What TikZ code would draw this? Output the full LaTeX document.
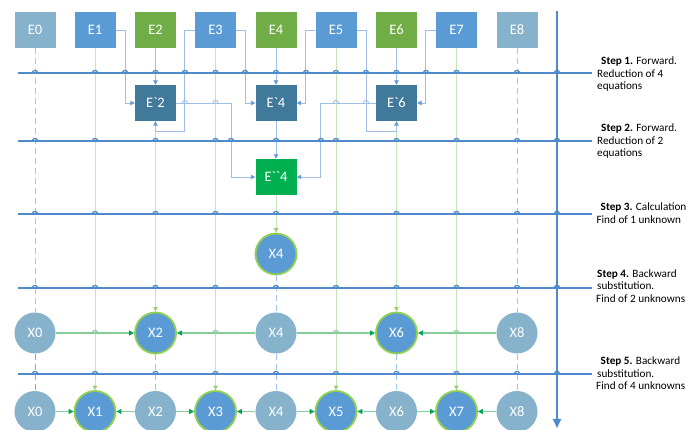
\documentclass[tikz,border=0pt]{standalone}
\usepackage{fontspec}
\setmainfont{Carlito}[Ligatures=TeXOff]
\usetikzlibrary{arrows.meta}

\definecolor{stepblue}{HTML}{4F8BCB}
\definecolor{egrey}{HTML}{86B2CB}
\definecolor{eblue}{HTML}{5B9BD5}
\definecolor{egreen}{HTML}{70AD47}
\definecolor{edark}{HTML}{41799A}
\definecolor{efinal}{HTML}{00B050}
\definecolor{ringgreen}{HTML}{92D050}
\definecolor{connblue}{HTML}{9DBFE6}
\definecolor{connhead}{HTML}{6A9BD8}
\definecolor{vgreen}{HTML}{C9E3B8}
\definecolor{vhead}{HTML}{9CCF78}
\definecolor{rowgreen}{HTML}{86CC9C}
\definecolor{rowhead}{HTML}{00A651}
\definecolor{dashblue}{HTML}{A3C4E8}
\definecolor{dashviolet}{HTML}{95A2E6}

% small line jump drawn over a crossing
\newcommand\hopat[3]{\draw[#3] (#1-2.6,#2) .. controls (#1-2.6,#2-3.4) and (#1+2.6,#2-3.4) .. (#1+2.6,#2);}

\begin{document}
\begin{tikzpicture}[x=1pt,y=-1pt,
  ebox/.style={minimum width=41pt, minimum height=36pt, inner sep=0pt, text=white,
    font=\fontsize{14.5}{16}\selectfont},
  xlight/.style={circle, fill=egrey, minimum size=41pt, inner sep=0pt, text=white,
    font=\fontsize{14.5}{16}\selectfont},
  xsolved/.style={circle, fill=eblue, draw=ringgreen, line width=1.8pt, minimum size=41pt,
    inner sep=0pt, text=white, font=\fontsize{14.5}{16}\selectfont},
  stepline/.style={draw=stepblue, line width=1.8pt},
  stephop/.style={draw=stepblue, line width=1.3pt},
  conn/.style={draw=connblue, line width=0.9pt, -{Triangle[length=4.5pt,width=4.5pt,color=connhead]}},
  connhop/.style={draw=connblue, line width=0.9pt},
  vline/.style={draw=vgreen, line width=1pt, -{Triangle[length=4.5pt,width=4.5pt,color=vhead]}},
  rowline/.style={draw=rowgreen, line width=1.1pt, -{Triangle[length=5pt,width=5pt,color=rowhead]}},
  rowhop/.style={draw=rowgreen, line width=1.1pt},
  dline/.style={draw=dashblue, line width=0.9pt, dash pattern=on 6pt off 4pt},
  dvline/.style={draw=dashviolet, line width=0.9pt, dash pattern=on 6pt off 4pt},
  steptxt/.style={anchor=base west, inner sep=0pt, font=\fontsize{11.2}{13}\selectfont}]

\useasboundingbox[fill=white] (0,0) rectangle (686,430);

% equations
\node[ebox, fill=egrey]  (e0) at (35,30)    {E0};
\node[ebox, fill=eblue]  (e1) at (95,30)    {E1};
\node[ebox, fill=egreen] (e2) at (155.5,30) {E2};
\node[ebox, fill=eblue]  (e3) at (215.5,30) {E3};
\node[ebox, fill=egreen] (e4) at (276,30)   {E4};
\node[ebox, fill=eblue]  (e5) at (336,30)   {E5};
\node[ebox, fill=egreen] (e6) at (396.5,30) {E6};
\node[ebox, fill=eblue]  (e7) at (456.5,30) {E7};
\node[ebox, fill=egrey]  (e8) at (517,30)   {E8};

% reduced equations
\node[ebox, fill=edark] (ep2) at (155.5,103) {E`2};
\node[ebox, fill=edark] (ep4) at (276,103)   {E`4};
\node[ebox, fill=edark] (ep6) at (396.5,103) {E`6};
\node[ebox, fill=efinal] (epp4) at (276,177) {E``4};

% unknowns
\node[xsolved] (x4c) at (276,254) {X4};

\node[xlight]  (r0) at (35,333)    {X0};
\node[xsolved] (r2) at (155.5,333) {X2};
\node[xlight]  (r4) at (276,333)   {X4};
\node[xsolved] (r6) at (396.5,333) {X6};
\node[xlight]  (r8) at (517,333)   {X8};

\node[xlight]  (b0) at (35,411.5)    {X0};
\node[xsolved] (b1) at (95,411.5)    {X1};
\node[xlight]  (b2) at (155.5,411.5) {X2};
\node[xsolved] (b3) at (215.5,411.5) {X3};
\node[xlight]  (b4) at (276,411.5)   {X4};
\node[xsolved] (b5) at (336,411.5)   {X5};
\node[xlight]  (b6) at (396.5,411.5) {X6};
\node[xsolved] (b7) at (456.5,411.5) {X7};
\node[xlight]  (b8) at (517,411.5)   {X8};

% odd equations pass straight down to their unknowns
\draw[vline] (e1.south) -- (b1.north);
\draw[vline] (e3.south) -- (b3.north);
\draw[vline] (e5.south) -- (b5.north);
\draw[vline] (e7.south) -- (b7.north);
\draw[vline] (ep2.south) -- (r2.north);
\draw[vline] (ep6.south) -- (r6.north);
\draw[vline] (epp4.south) -- (x4c.north);

% known values carried down
\draw[dline] (e0.south) -- (r0.north);
\draw[dline] (e8.south) -- (r8.north);
\draw[dline] (x4c.south) -- (r4.north);
\draw[dvline] (r0.south) -- (b0.north);
\draw[dline] (r2.south) -- (b2.north);
\draw[dline] (r4.south) -- (b4.north);
\draw[dline] (r6.south) -- (b6.north);
\draw[dline] (r8.south) -- (b8.north);

% forward reduction
\draw[conn] (e2.south) -- (ep2.north);
\draw[conn] (e4.south) -- (ep4.north);
\draw[conn] (e6.south) -- (ep6.north);
\draw[conn] (ep4.south) -- (epp4.north);
\draw[conn] (e1.east) -- ++(9.5,0) |- (ep2.west);
\draw[conn] (e3.west) -- ++(-10,0) -- ++(0,101) -| (ep2.south);
\draw[conn] (e3.east) -- ++(9.5,0) |- (ep4.west);
\draw[conn] (e5.west) -- ++(-9.5,0) |- (ep4.east);
\draw[conn] (e5.east) -- ++(9.5,0) -- ++(0,101) -| (ep6.south);
\draw[conn] (e7.west) -- ++(-10,0) |- (ep6.east);
\draw[conn] (ep2.east) -- ++(55,0) |- (epp4.west);
\draw[conn] (ep6.west) -- ++(-55,0) |- (epp4.east);
\hopat{185}{103}{connhop}
\hopat{215.5}{103}{connhop}
\hopat{366}{103}{connhop}
\hopat{336}{103}{connhop}

% backward substitution
\draw[rowline] (r0.east) -- (r2.west);
\draw[rowline] (r4.west) -- (r2.east);
\draw[rowline] (r4.east) -- (r6.west);
\draw[rowline] (r8.west) -- (r6.east);
\foreach \xx in {95,215.5,336,456.5} {\hopat{\xx}{333}{rowhop}}

\draw[rowline] (b0.east) -- (b1.west);
\draw[rowline] (b2.west) -- (b1.east);
\draw[rowline] (b2.east) -- (b3.west);
\draw[rowline] (b4.west) -- (b3.east);
\draw[rowline] (b4.east) -- (b5.west);
\draw[rowline] (b6.west) -- (b5.east);
\draw[rowline] (b6.east) -- (b7.west);
\draw[rowline] (b8.west) -- (b7.east);

% time axis
\coordinate (axtop) at (557,11);
\coordinate (axbot) at (557,428);
\draw[stepline, -{Triangle[length=9pt,width=8pt]}] (axtop) -- (axbot);

% step separators with line jumps
\foreach \yy/\xs in {
  73/{35,95,125,155.5,185,215.5,245,276,306,336,366,396.5,426,456.5,517,557},
  141/{35,95,155.5,215.5,231,276,321,336,396.5,456.5,517,557},
  214/{35,95,155.5,215.5,276,336,396.5,456.5,517,557},
  288/{35,95,155.5,215.5,276,336,396.5,456.5,517,557},
  374/{35,95,155.5,215.5,276,336,396.5,456.5,517,557}} {
  \draw[stepline] (18,\yy) -- (592,\yy);
  \foreach \xx in \xs {\hopat{\xx}{\yy}{stephop}}
}

% step captions
\node[steptxt] (s1a) at (601,65)   {\textbf{Step 1.} Forward.};
\node[steptxt] (s1b) at (597,77.5) {Reduction of 4};
\node[steptxt] (s1c) at (597,90)   {equations};

\node[steptxt] (s2a) at (601,131.7) {\textbf{Step 2.} Forward.};
\node[steptxt] (s2b) at (597,144.2) {Reduction of 2};
\node[steptxt] (s2c) at (597,156.7) {equations};

\node[steptxt] (s3a) at (600.5,210.7) {\textbf{Step 3.} Calculation};
\node[steptxt] (s3b) at (596.3,223.3) {Find of 1 unknown};

\node[steptxt] (s4a) at (597,277.3) {\textbf{Step 4.} Backward};
\node[steptxt] (s4b) at (597,289.8) {substitution.};
\node[steptxt] (s4c) at (596,302.3) {Find of 2 unknowns};

\node[steptxt] (s5a) at (600.5,364.7) {\textbf{Step 5.} Backward};
\node[steptxt] (s5b) at (597,377.2)   {substitution.};
\node[steptxt] (s5c) at (596,389.7)   {Find of 4 unknowns};
\end{tikzpicture}
\end{document}
